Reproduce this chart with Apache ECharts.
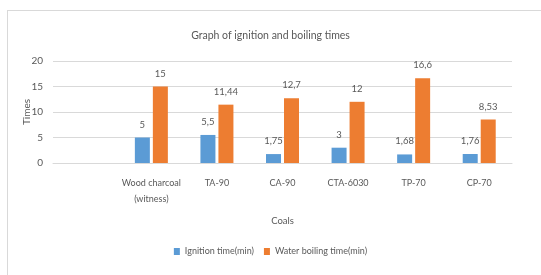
<!DOCTYPE html>
<html>
<head>
<meta charset="utf-8">
<script src="https://cdn.jsdelivr.net/npm/echarts@6/dist/echarts.min.js"></script>
<style>
  html, body { margin: 0; padding: 0; background: #fff; }
  #frame { position: absolute; left: 7px; top: 10px; width: 540px; height: 270px; border: 1px solid #d9d9d9; box-sizing: border-box; }
  #chart { position: absolute; left: 0; top: 0; width: 541px; height: 275px; }
</style>
</head>
<body>
<div id="frame"></div>
<div id="chart"></div>
<script>
const categories = ["", "Wood charcoal\n(witness)", "TA-90", "CA-90", "CTA-6030", "TP-70", "CP-70"];
const ignitionTime = [null, 5, 5.5, 1.75, 3, 1.68, 1.76];
const boilingTime = [null, 15, 11.44, 12.7, 12, 16.6, 8.53];
const yTicks = { min: 0, max: 20, interval: 5 };

const FONT = "Lato, 'Liberation Sans', sans-serif";
const TEXT = "#595959";

function commaLabel(p) {
  return p.value == null ? "" : String(p.value).replace(".", ",");
}

const chart = echarts.init(document.getElementById("chart"));
chart.setOption({
  animation: false,
  textStyle: { fontFamily: FONT, color: TEXT },
  title: {
    text: "Graph of ignition and boiling times",
    left: "center",
    top: 25,
    textStyle: { fontFamily: FONT, fontSize: 10.5, fontWeight: "normal", color: TEXT }
  },
  grid: { left: 53, right: 29, top: 61, bottom: 112 },
  legend: {
    bottom: 14,
    itemWidth: 6,
    itemHeight: 7,
    itemGap: 10,
    itemTextGap: 3,
    icon: "rect",
    textStyle: { fontFamily: FONT, fontSize: 9, color: TEXT },
    data: ["Ignition time(min)", "Water boiling time(min)"]
  },
  xAxis: {
    type: "category",
    data: categories,
    name: "Coals",
    nameLocation: "middle",
    nameGap: 53,
    nameTextStyle: { fontFamily: FONT, fontSize: 9.5, color: TEXT },
    axisLine: { lineStyle: { color: "#d9d9d9" } },
    axisTick: { show: false },
    axisLabel: { interval: 0, fontFamily: FONT, fontSize: 9, color: TEXT, margin: 12, lineHeight: 16 }
  },
  yAxis: {
    type: "value",
    min: yTicks.min,
    max: yTicks.max,
    interval: yTicks.interval,
    name: "Times",
    nameLocation: "middle",
    nameGap: 21,
    nameMoveOverlap: false,
    nameTextStyle: { fontFamily: FONT, fontSize: 10, color: TEXT },
    axisLine: { show: false },
    axisTick: { show: false },
    axisLabel: { fontFamily: FONT, fontSize: 10, color: TEXT, margin: 10 },
    splitLine: { lineStyle: { color: "#d9d9d9" } }
  },
  series: [
    {
      name: "Ignition time(min)",
      type: "bar",
      data: ignitionTime,
      barWidth: 15,
      barGap: "20%",
      itemStyle: { color: "#5b9bd5" },
      label: { show: true, position: "top", distance: 8, formatter: commaLabel, fontFamily: FONT, fontSize: 9.5, color: TEXT }
    },
    {
      name: "Water boiling time(min)",
      type: "bar",
      data: boilingTime,
      barWidth: 15,
      barGap: "20%",
      itemStyle: { color: "#ed7d31" },
      label: { show: true, position: "top", distance: 8, formatter: commaLabel, fontFamily: FONT, fontSize: 9.5, color: TEXT }
    }
  ]
});
</script>
</body>
</html>
